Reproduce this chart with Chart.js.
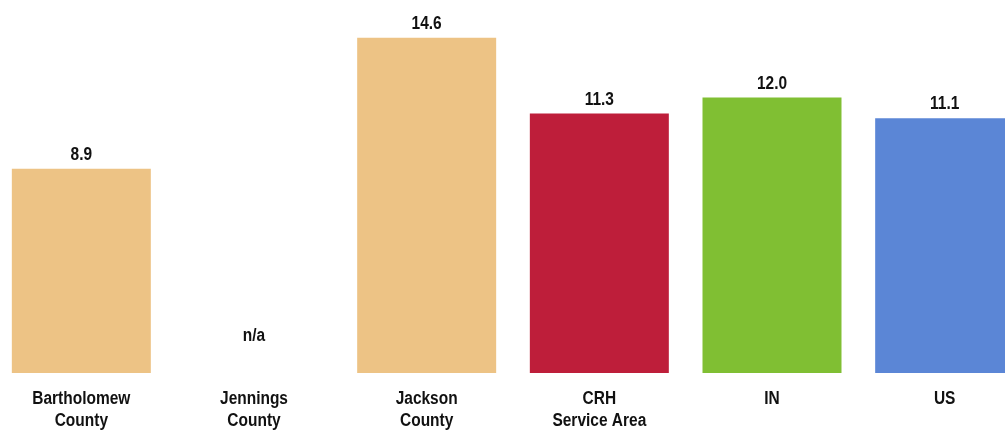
<!DOCTYPE html>
<html>
<head>
  <title>Rate by Area</title>
  <script src="https://cdn.jsdelivr.net/npm/chart.js"></script>
  <style>
    html, body { margin: 0; padding: 0; overflow: hidden; background: #fff; }
    #wrap { position: absolute; left: -5px; top: 0; width: 1036px; height: 430px; }
  </style>
</head>
<body>
<div id="wrap"><canvas id="myChart"></canvas></div>

<script>
  const areas = [['Bartholomew', 'County'], ['Jennings', 'County'], ['Jackson', 'County'], ['CRH', 'Service Area'], ['IN'], ['US']];
  const rates = [8.9, null, 14.6, 11.3, 12.0, 11.1];
  const barColors = ['#EDC385', '#EDC385', '#EDC385', '#BE1E3A', '#80BF33', '#5B86D6'];
  const fontFamily = '"Liberation Sans", Arial, sans-serif';
  const squeeze = 0.86; // the original uses a narrow face, so text is drawn a bit condensed

  function narrowText(ctx, text, x, y) {
    ctx.save();
    ctx.translate(x, y);
    ctx.scale(squeeze, 1);
    ctx.fillText(text, 0, 0);
    ctx.restore();
  }

  // value labels above the bars + the category labels under the axis
  const textLayer = {
    id: 'textLayer',
    afterDatasetsDraw(chart) {
      const ctx = chart.ctx;
      const meta = chart.getDatasetMeta(0);
      const x = chart.scales.x;
      const y = chart.scales.y;
      ctx.save();
      ctx.font = 'bold 18px ' + fontFamily;
      ctx.fillStyle = '#111';
      ctx.textAlign = 'center';
      ctx.textBaseline = 'middle';
      meta.data.forEach((bar, i) => {
        const v = rates[i];
        if (v == null) {
          narrowText(ctx, 'n/a', bar.x, y.getPixelForValue(1) - 14);
        } else {
          narrowText(ctx, v.toFixed(1), bar.x, bar.y - 14);
        }
      });
      areas.forEach((lines, i) => {
        const cx = x.getPixelForTick(i);
        lines.forEach((t, j) => narrowText(ctx, t, cx, y.bottom + 26 + j * 22));
      });
      ctx.restore();
    }
  };

  new Chart(document.getElementById('myChart'), {
    type: 'bar',
    data: {
      labels: areas,
      datasets: [{
        data: rates,
        backgroundColor: barColors,
        categoryPercentage: 1,
        barPercentage: 0.805
      }]
    },
    options: {
      responsive: true,
      maintainAspectRatio: false,
      animation: false,
      layout: { padding: 0 },
      plugins: { legend: { display: false }, tooltip: { enabled: false } },
      scales: {
        x: {
          grid: { display: false, drawTicks: false },
          border: { display: false },
          ticks: { display: false },
          afterFit(scale) { scale.height = 57; }
        },
        y: {
          display: false,
          min: 0,
          max: 16.25
        }
      }
    },
    plugins: [textLayer]
  });
</script>
</body>
</html>
